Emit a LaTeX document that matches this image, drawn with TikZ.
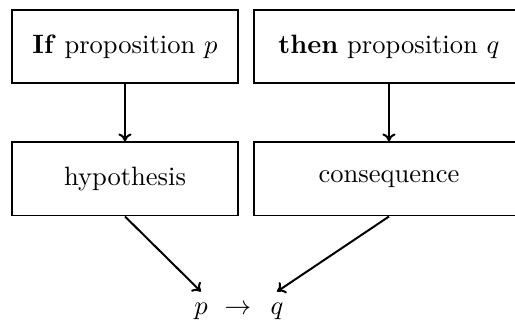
\documentclass[tikz,border=0pt]{standalone}
\usetikzlibrary{arrows.meta}
\begin{document}
\begin{tikzpicture}[x=0.37665pt,y=-0.37665pt,
  box/.style={draw,line width=0.75pt,minimum height=27.5pt,inner sep=0pt},
  narrowbox/.style={box,minimum width=85.1pt},
  widebox/.style={box,minimum width=101.7pt},
  conn/.style={line width=0.75pt,-{To[length=3pt,width=5pt]}},
  lit/.style={inner sep=4.3pt}]
\useasboundingbox (0,0) rectangle (515,321);
\clip (0,0) rectangle (515,321);
\node[narrowbox] (ifp) at (125,46.5) {\textbf{If} proposition $p$};
\node[widebox] (thenq) at (389,46.5) {\textbf{then} proposition $q$};
\node[narrowbox] (hyp) at (125,179) {hypothesis};
\node[widebox] (cons) at (389,179) {consequence};
\node[lit,anchor=base] (p) at (201,315) {$p$};
\node[lit,anchor=base] (arr) at (238,315) {$\rightarrow$};
\node[lit,anchor=base] (q) at (277,315) {$q$};
\draw[conn] (ifp) -- (hyp);
\draw[conn] (thenq) -- (cons);
\draw[conn] (hyp.south) -- (p.north);
\draw[conn] (cons.south) -- (q.north);
\end{tikzpicture}
\end{document}
